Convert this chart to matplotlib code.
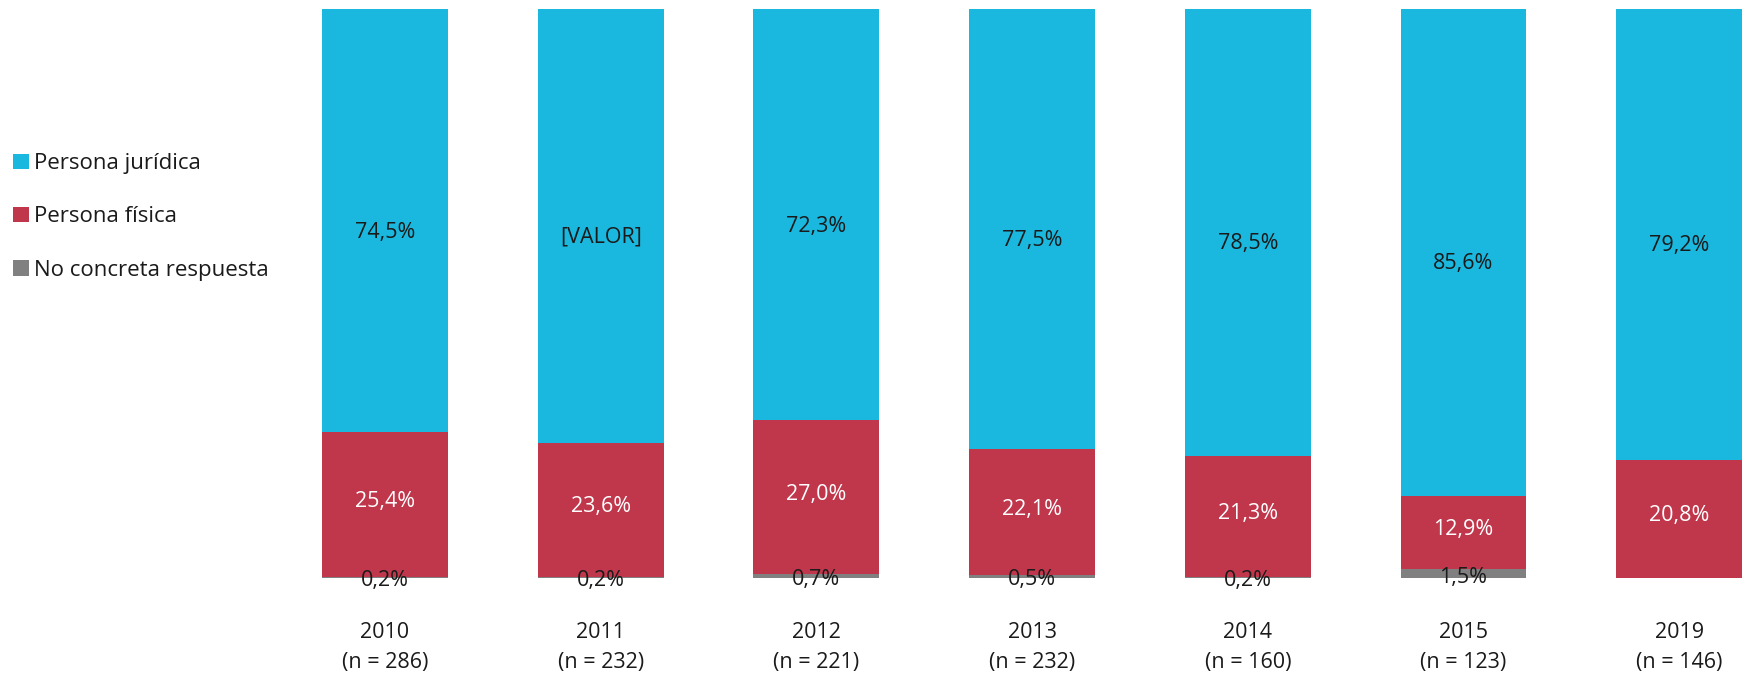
import matplotlib.pyplot as plt
import numpy as np

plt.rcParams['font.family'] = ['Open Sans', 'DejaVu Sans']

years = ['2010', '2011', '2012', '2013', '2014', '2015', '2019']
n_values = [286, 232, 221, 232, 160, 123, 146]
juridica = [74.5, 76.2, 72.3, 77.5, 78.5, 85.6, 79.2]
fisica = [25.4, 23.6, 27.0, 22.1, 21.3, 12.9, 20.8]
no_concreta = [0.2, 0.2, 0.7, 0.5, 0.2, 1.5, 0.0]
juridica_labels = ['74,5%', '[VALOR]', '72,3%', '77,5%', '78,5%', '85,6%', '79,2%']

c_jur = '#1AB8DE'
c_fis = '#C0364B'
c_no = '#808080'

fig = plt.figure(figsize=(17.5, 6.78), dpi=100)
ax = fig.add_axes([290 / 1750, 100 / 678, 1460 / 1750, 569 / 678])

x = np.arange(len(years))
w = 0.584
nc = np.array(no_concreta)
fi = np.array(fisica)
ju = np.array(juridica)

b_no = ax.bar(x, nc, w, color=c_no, label='No concreta respuesta')
b_fi = ax.bar(x, fi, w, bottom=nc, color=c_fis, label='Persona física')
b_ju = ax.bar(x, ju, w, bottom=nc + fi, color=c_jur, label='Persona jurídica')

fs = 15.5
for i in range(len(years)):
    top = min(nc[i] + fi[i] + ju[i], 100)
    ax.text(x[i], (nc[i] + fi[i] + top) / 2 - 2, juridica_labels[i], ha='center', va='center',
            fontsize=fs, color='#1a1a1a')
    ax.text(x[i], nc[i] + fi[i] / 2 + 0.5, f'{fisica[i]:.1f}%'.replace('.', ','), ha='center',
            va='center', fontsize=fs, color='white')
    if no_concreta[i] > 0:
        ax.text(x[i], nc[i] / 2 - 0.6, f'{no_concreta[i]:.1f}%'.replace('.', ','), ha='center',
                va='center', fontsize=fs, color='#1a1a1a')
    ax.text(x[i], -7.7, f'{years[i]}\n(n = {n_values[i]})', ha='center', va='top',
            fontsize=fs, color='#1a1a1a', linespacing=1.55)

ax.set_xlim((290 - 385) / 215.7, (1750 - 385) / 215.7)
ax.set_ylim(0, 100)
ax.axis('off')

handles = [b_ju, b_fi, b_no]
fig.legend(handles, [h.get_label() for h in handles], loc='center left',
           bbox_to_anchor=(-0.004, 0.68), frameon=False, fontsize=16,
           handlelength=0.7, handleheight=0.7, handletextpad=0.25, labelspacing=1.45,
           labelcolor='#1a1a1a')

fig.savefig('out.png', dpi=100)
